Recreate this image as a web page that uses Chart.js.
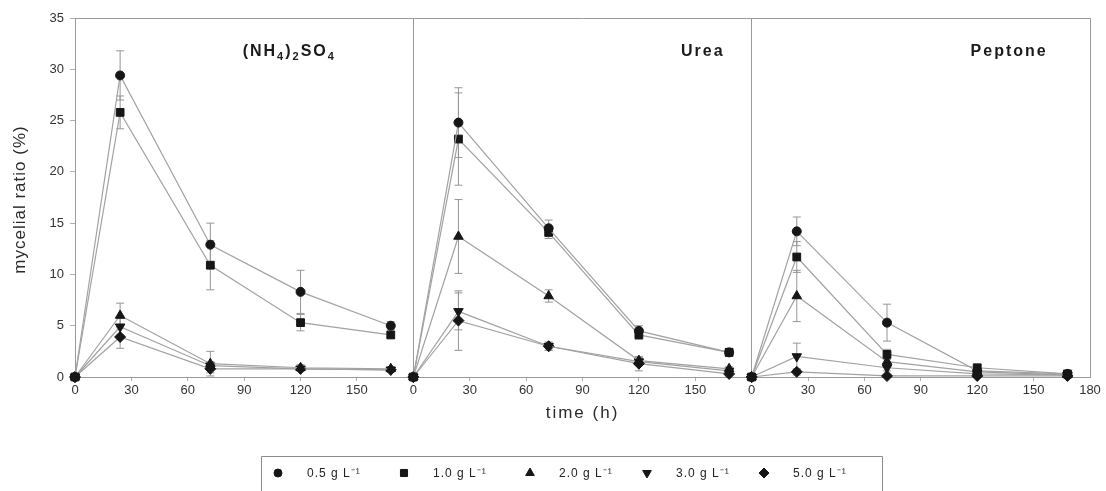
<!DOCTYPE html>
<html>
<head>
<meta charset="utf-8">
<script src="https://cdn.jsdelivr.net/npm/chart.js@4.4.1/dist/chart.umd.min.js"></script>
<style>
  html, body { margin: 0; padding: 0; background: #fff; }
  #wrap { width: 1106px; height: 491px; position: relative; }
</style>
</head>
<body>
<div id="wrap"><canvas id="chart"></canvas></div>
<script>
// sampling times (h), same for every nitrogen source
const times = [0, 24, 72, 120, 168];
const concentrations = ["0.5 g L⁻¹", "1.0 g L⁻¹", "2.0 g L⁻¹", "3.0 g L⁻¹", "5.0 g L⁻¹"];
const markerStyles = ["circle", "rect", "triangle", "triangle", "rectRot"];
const markerRotations = [0, 0, 0, 180, 0];
const markerSizes = [4.5, 5.5, 5.5, 5.5, 5.5];
const xTitle = "time (h)";
const yTitle = "mycelial ratio (%)";

// mycelial ratio (%), one row per concentration
const ammoniumSulfate = [
  [0, 29.4, 12.9, 8.3, 5.0],
  [0, 25.8, 10.9, 5.3, 4.1],
  [0, 6.0, 1.3, 0.9, 0.8],
  [0, 4.9, 1.1, 0.8, 0.7],
  [0, 3.9, 0.8, 0.8, 0.7],
];
const ammoniumSulfateSd = [
  [0, 2.4, 2.1, 2.1, 0.4],
  [0, 1.6, 2.4, 0.8, 0.3],
  [0, 1.2, 1.2, 0.3, 0.2],
  [0, 0.8, 0.4, 0.2, 0.2],
  [0, 1.1, 0.4, 0.2, 0.2],
];
const urea = [
  [0, 24.8, 14.5, 4.5, 2.4],
  [0, 23.2, 14.1, 4.1, 2.4],
  [0, 13.7, 7.9, 1.6, 0.8],
  [0, 6.4, 3.0, 1.5, 0.6],
  [0, 5.5, 3.0, 1.3, 0.3],
];
const ureaSd = [
  [0, 3.4, 0.8, 0.5, 0.4],
  [0, 4.5, 0.6, 0.4, 0.3],
  [0, 3.6, 0.6, 0.3, 0.2],
  [0, 1.8, 0.4, 0.3, 0.2],
  [0, 2.9, 0.4, 0.7, 0.2],
];
const peptone = [
  [0, 14.2, 5.3, 0.6, 0.3],
  [0, 11.7, 2.2, 0.9, 0.3],
  [0, 7.9, 1.5, 0.5, 0.2],
  [0, 2.0, 0.9, 0.3, 0.2],
  [0, 0.5, 0.1, 0.1, 0.1],
];
const peptoneSd = [
  [0, 1.4, 1.8, 0.3, 0.1],
  [0, 1.5, 0.5, 0.3, 0.1],
  [0, 2.5, 0.5, 0.2, 0.1],
  [0, 1.3, 0.3, 0.1, 0.1],
  [0, 0.3, 0.1, 0.1, 0.1],
];

// each source gets its own 0-180 h panel on a shared axis
const panelSpan = 180;
const panels = [
  { values: ammoniumSulfate, sd: ammoniumSulfateSd, title: [["(NH", 0], ["4", 1], [")", 0], ["2", 1], ["SO", 0], ["4", 1]], at: 114 },
  { values: urea, sd: ureaSd, title: [["Urea", 0]], at: 154 },
  { values: peptone, sd: peptoneSd, title: [["Peptone", 0]], at: 137 },
];

const FONT = 'Arial, "Liberation Sans", sans-serif';
const LINE = "#a2a2a2";
const INK = "#161616";
const AXIS = "#9a9a9a";

const datasets = [];
panels.forEach((panel, p) => {
  panel.values.forEach((row, c) => {
    datasets.push({
      label: concentrations[c],
      panel: p,
      series: c,
      data: row.map((v, i) => ({ x: times[i] + p * panelSpan, y: v, sd: panel.sd[c][i] })),
      borderColor: LINE,
      borderWidth: 1.2,
      pointStyle: markerStyles[c],
      pointRotation: markerRotations[c],
      pointRadius: markerSizes[c],
      pointBackgroundColor: INK,
      pointBorderColor: INK,
      pointBorderWidth: 1,
      tension: 0,
      clip: false,
    });
  });
});

function drawMarker(ctx, style, rotation, radius, x, y) {
  ctx.save();
  ctx.fillStyle = INK;
  ctx.strokeStyle = INK;
  ctx.lineWidth = 1;
  Chart.helpers.drawPoint(ctx, { pointStyle: style, rotation: rotation, radius: radius, borderWidth: 1 }, x, y);
  ctx.restore();
}

const errorBars = {
  id: "errorBars",
  beforeDatasetsDraw(chart) {
    const { ctx, scales } = chart;
    ctx.save();
    ctx.strokeStyle = "#969696";
    ctx.lineWidth = 1;
    chart.data.datasets.forEach((ds) => {
      ds.data.forEach((pt) => {
        if (!pt.sd) return;
        const x = scales.x.getPixelForValue(pt.x);
        const top = scales.y.getPixelForValue(pt.y + pt.sd);
        const bot = scales.y.getPixelForValue(Math.max(0, pt.y - pt.sd));
        ctx.beginPath();
        ctx.moveTo(x, top);
        ctx.lineTo(x, bot);
        ctx.moveTo(x - 4, top);
        ctx.lineTo(x + 4, top);
        ctx.moveTo(x - 4, bot);
        ctx.lineTo(x + 4, bot);
        ctx.stroke();
      });
    });
    ctx.restore();
  },
};

const panelFrame = {
  id: "panelFrame",
  afterDraw(chart) {
    const { ctx, chartArea, scales } = chart;
    ctx.save();
    ctx.strokeStyle = AXIS;
    ctx.lineWidth = 1;
    ctx.beginPath();
    ctx.moveTo(chartArea.left, chartArea.top + 0.5);
    ctx.lineTo(chartArea.right, chartArea.top + 0.5);
    ctx.stroke();

    // axis titles, a little letter-spaced
    ctx.fillStyle = "#2a2a2a";
    ctx.font = "17px " + FONT;
    ctx.letterSpacing = "2px";
    ctx.textAlign = "center";
    ctx.textBaseline = "middle";
    ctx.fillText(xTitle, (chartArea.left + chartArea.right) / 2, 413);
    ctx.save();
    ctx.translate(20, (chartArea.top + chartArea.bottom) / 2 + 2);
    ctx.rotate(-Math.PI / 2);
    ctx.letterSpacing = "1px";
    ctx.fillText(yTitle, 0, 0);
    ctx.restore();

    // source names, with subscripts where needed
    ctx.textAlign = "left";
    ctx.fillStyle = "#1a1a1a";
    ctx.textBaseline = "alphabetic";
    panels.forEach((panel, p) => {
      const big = "bold 16px " + FONT;
      const small = "bold 11px " + FONT;
      ctx.letterSpacing = "2px";
      let width = 0;
      panel.title.forEach(([txt, sub]) => {
        ctx.font = sub ? small : big;
        width += ctx.measureText(txt).width;
      });
      let x = scales.x.getPixelForValue(p * panelSpan + panel.at) - width / 2;
      const base = chartArea.top + 38;
      panel.title.forEach(([txt, sub]) => {
        ctx.font = sub ? small : big;
        ctx.fillText(txt, x, sub ? base + 4 : base);
        x += ctx.measureText(txt).width;
      });
    });

    // boxed legend under the axis title
    const boxTop = 456.5;
    ctx.beginPath();
    ctx.moveTo(261.5, chart.height + 2);
    ctx.lineTo(261.5, boxTop);
    ctx.lineTo(882.5, boxTop);
    ctx.lineTo(882.5, chart.height + 2);
    ctx.strokeStyle = "#8c8c8c";
    ctx.stroke();
    const markerX = [278, 404, 530, 647, 764];
    const rowY = 473;
    ctx.font = "12px " + FONT;
    ctx.letterSpacing = "1px";
    ctx.fillStyle = "#222";
    ctx.textBaseline = "middle";
    concentrations.forEach((label, c) => {
      drawMarker(ctx, markerStyles[c], markerRotations[c], markerSizes[c] - 0.5, markerX[c], rowY);
      ctx.fillText(label, markerX[c] + 29, rowY + 1);
    });
    ctx.restore();
  },
};

new Chart(document.getElementById("chart"), {
  type: "line",
  data: { datasets: datasets },
  plugins: [errorBars, panelFrame],
  options: {
    responsive: true,
    maintainAspectRatio: false,
    animation: false,
    layout: { padding: { top: 18, right: 16, left: 0, bottom: 64 } },
    plugins: {
      legend: { display: false },
      tooltip: { enabled: false },
    },
    scales: {
      x: {
        type: "linear",
        min: 0,
        max: panelSpan * 3,
        afterFit: (scale) => { scale.height = 50; },
        ticks: {
          stepSize: 30,
          padding: 2,
          color: "#333",
          font: { family: FONT, size: 13 },
          callback: (v) => (v === panelSpan * 3 ? panelSpan : v % panelSpan),
        },
        grid: {
          color: (c) => (c.tick && c.tick.value > 0 && c.tick.value % panelSpan === 0 ? AXIS : "rgba(0,0,0,0)"),
          tickColor: (c) => (c.tick && c.tick.value % panelSpan === 0 ? "rgba(0,0,0,0)" : "#b0b0b0"),
          tickLength: 4,
        },
        border: { display: true, color: AXIS },
      },
      y: {
        min: 0,
        max: 35,
        afterFit: (scale) => { scale.width = 75; },
        ticks: {
          stepSize: 5,
          padding: 6,
          color: "#333",
          font: { family: FONT, size: 13 },
        },
        grid: {
          color: "rgba(0,0,0,0)",
          tickColor: "#b0b0b0",
          tickLength: 5,
        },
        border: { display: true, color: AXIS },
      },
    },
  },
});
</script>
</body>
</html>
